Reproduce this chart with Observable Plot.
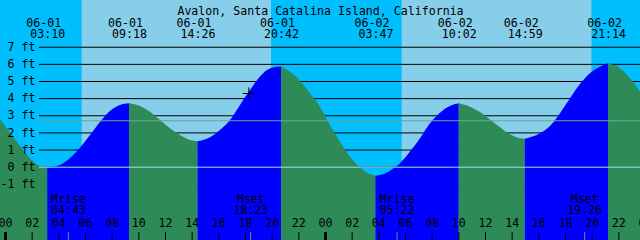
<!DOCTYPE html>
<html><head><meta charset="utf-8">
<script src="https://cdn.jsdelivr.net/npm/d3@7"></script>
<script src="https://cdn.jsdelivr.net/npm/@observablehq/plot@0.6"></script>
<style>
html,body{margin:0;padding:0;background:#fff;overflow:hidden}
#chart svg{display:block}
</style></head><body><div id="chart"></div>
<script>
const title = "Avalon, Santa Catalina Island, California";
// tide extremes
const eventDates = ["06-01","06-01","06-01","06-01","06-02","06-02","06-02","06-02"];
const eventTimes = ["03:10","09:18","14:26","20:42","03:47","10:02","14:59","21:14"];
const eventTypes = ["low","high","low","high","low","high","low","high"];
const eventFeet  = [-0.05, 3.70, 1.48, 5.84, -0.53, 3.70, 1.63, 6.03];
// curve samples (hours after 06-01 00:00, feet)
const sampleHours = [-0.375,0.375,1.125,1.875,2.625,4.125,4.875,5.625,6.375,7.125,7.875,8.625,10.125,10.875,11.625,12.375,13.125,13.875,15.375,16.125,16.875,17.625,18.375,19.125,19.875,21.375,22.125,22.875,23.625,24.375,25.125,25.875,26.625,27.375,28.125,28.875,29.625,30.375,31.125,31.875,32.625,33.375,34.875,35.625,36.375,37.125,37.875,38.625,40.125,40.875,41.625,42.375,43.125,43.875,44.625,46.125,46.875,47.625];
const sampleFeet = [2.77,2.01,1.21,0.50,0.04,0.10,0.51,1.11,1.85,2.61,3.25,3.60,3.54,3.21,2.72,2.24,1.85,1.56,1.72,2.14,2.72,3.60,4.47,5.26,5.73,5.54,5.02,4.28,3.50,2.43,1.46,0.58,-0.04,-0.43,-0.49,-0.23,0.20,0.88,1.66,2.53,3.15,3.54,3.50,3.19,2.75,2.30,1.89,1.66,1.95,2.37,3.12,3.99,4.82,5.45,5.83,5.74,5.16,4.38];
// sun
const sunriseDates = ["06-01","06-02"];
const sunriseTimes = ["05:45","05:45"];
const sunsetDates = ["06-01","06-02"];
const sunsetTimes = ["19:58","20:00"];
// moon
const moonLabels = ["Mrise","Mset","Mrise","Mset"];
const moonDates = ["06-01","06-01","06-02","06-02"];
const moonTimes = ["04:43","18:23","05:22","19:26"];
// current-time marker
const markerDate = "06-01", markerTime = "18:15", markerFeet = 4.3;
// axes
const windowHours = [-0.375, 47.625];
const feetDomain = [-4.277, 9.726];
const feetTicks = [-1,0,1,2,3,4,5,6,7];
const hourTicks = [0,2,4,6,8,10,12,14,16,18,20,22,24,26,28,30,32,34,36,38,40,42,44,46,48];
const midnightTicks = [0,24];
const mslFeet = 2.71;

const C = {night:"#00bfff", day:"#87ceeb", rise:"#0000ff", fall:"#2e8b57", msl:"#64a897", datum:"#a8dcf0", moonTick:"#808080"};
const FONT = 11.6;

function toHours(date, time){
  const day = +date.split("-")[1];
  const [hh, mm] = time.split(":").map(Number);
  return (day-1)*24 + hh + mm/60;
}
const events = eventDates.map((d,i)=>({date:d, time:eventTimes[i], type:eventTypes[i], ft:eventFeet[i], hour:toHours(d,eventTimes[i])}));
const pts = sampleHours.map((h,i)=>({hour:h, ft:sampleFeet[i]}))
  .concat(events.map(e=>({hour:e.hour, ft:e.ft})))
  .sort((a,b)=>a.hour-b.hour);
const segs = [];
for (let k=0;k<=events.length;k++){
  const lo = k===0 ? -Infinity : events[k-1].hour;
  const hi = k===events.length ? Infinity : events[k].hour;
  const rising = k<events.length ? events[k].type==="high" : events[k-1].type==="low";
  for (const p of pts) if (p.hour>=lo && p.hour<=hi) segs.push({...p, seg:k, color: rising?C.rise:C.fall});
}
const sr = sunriseDates.map((d,i)=>toHours(d,sunriseTimes[i]));
const ss = sunsetDates.map((d,i)=>toHours(d,sunsetTimes[i]));
const sky = [
  {x1:windowHours[0], x2:sr[0], c:C.night},
  {x1:sr[0], x2:ss[0], c:C.day},
  {x1:ss[0], x2:sr[1], c:C.night},
  {x1:sr[1], x2:ss[1], c:C.day},
  {x1:ss[1], x2:windowHours[1], c:C.night}
];
const moon = moonLabels.map((l,i)=>({label:l, time:moonTimes[i], hour:toHours(moonDates[i],moonTimes[i])}));
const marker = [{hour:toHours(markerDate,markerTime), ft:markerFeet}];
const pad = h => String(h%24).padStart(2,"0");

const chart = Plot.plot({
  width: 640, height: 240,
  marginTop: 0, marginRight: 0, marginBottom: 0, marginLeft: 0,
  x: {domain: windowHours, axis: null},
  y: {domain: feetDomain, axis: null},
  color: {type: "identity"},
  style: {fontFamily: "'DejaVu Sans Mono', monospace", fontSize: FONT+"px", background: C.night},
  marks: [
    Plot.rect(sky, {x1:"x1", x2:"x2", fill:"c"}),
    Plot.ruleY(feetTicks, {stroke:"#000", strokeWidth:1, insetLeft:39}),
    Plot.areaY(segs, {x:"hour", y1:feetDomain[0], y2:"ft", z:"seg", fill:"color", curve:"monotone-x"}),
    Plot.ruleY([mslFeet], {stroke:C.msl, strokeWidth:1, insetLeft:39}),
    Plot.ruleY([0], {stroke:C.datum, strokeWidth:1, insetLeft:39}),
    Plot.ruleX(hourTicks, {stroke:"#000", strokeWidth:1, insetTop:232}),
    Plot.ruleX(midnightTicks, {stroke:"#000", strokeWidth:3, insetTop:232}),
    Plot.ruleX(moon, {x:"hour", stroke:C.moonTick, strokeWidth:1, insetTop:232}),
    Plot.text(hourTicks, {x:d=>d, text:pad, frameAnchor:"bottom", dy:-13.7, fill:"#000", fontSize:FONT}),
    Plot.text(moon, {x:"hour", text:"label", frameAnchor:"bottom", dy:-37.7, fill:"#000", fontSize:FONT}),
    Plot.text(moon, {x:"hour", text:"time", frameAnchor:"bottom", dy:-26.7, fill:"#000", fontSize:FONT}),
    Plot.text(events, {x:"hour", text:"date", frameAnchor:"top", dy:18.3, dx:-4, fill:"#000", fontSize:FONT}),
    Plot.text(events, {x:"hour", text:"time", frameAnchor:"top", dy:29.3, fill:"#000", fontSize:FONT}),
    Plot.text([title], {text:d=>d, frameAnchor:"top", dy:6.3, fill:"#000", fontSize:FONT}),
    Plot.text(feetTicks, {y:d=>d, text:d=>`${d} ft`, frameAnchor:"left", dx:35, textAnchor:"end", fill:"#000", fontSize:FONT}),
    Plot.dot(marker, {x:"hour", y:"ft", symbol:"plus", r:4, stroke:"#000", strokeWidth:1, fill:"none"})
  ]
});
document.getElementById("chart").appendChild(chart);
</script></body></html>
